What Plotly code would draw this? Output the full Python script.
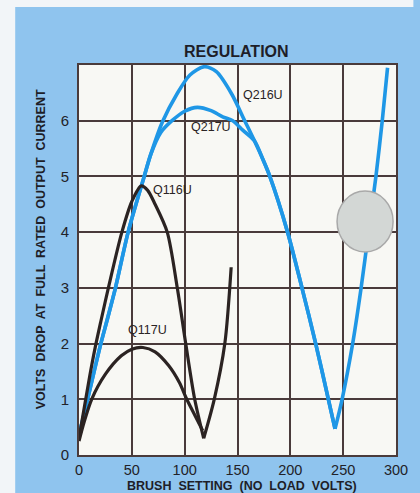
import plotly.graph_objects as go

# ---- data ----
q216u_x = [0, 10, 20, 27, 34.5, 46.5, 61.7, 68, 79, 92.7, 105, 118.6, 130, 144.5, 156.8, 166, 174.6, 180.6, 197.4, 211, 224, 236, 242.3, 249, 259, 267, 274, 281, 287, 292]
q216u_y = [0.35, 1.15, 1.95, 2.45, 3.0, 4.0, 5.0, 5.4, 5.98, 6.48, 6.82, 6.97, 6.88, 6.48, 6.0, 5.64, 5.28, 5.0, 4.0, 3.0, 2.0, 1.0, 0.47, 1.0, 2.0, 3.0, 4.0, 5.0, 6.0, 6.95]

q217u_x = [0, 10, 20, 27, 34.5, 46.5, 61.7, 68, 77.4, 88, 100, 112, 125, 136, 145.5, 155, 166, 174.6, 180.6, 197.4, 211, 224, 236, 242.3]
q217u_y = [0.35, 1.15, 1.95, 2.45, 3.0, 4.0, 5.0, 5.4, 5.79, 6.0, 6.17, 6.24, 6.18, 6.07, 6.0, 5.83, 5.64, 5.28, 5.0, 4.0, 3.0, 2.0, 1.0, 0.47]

q116u_x = [0, 5, 10, 15, 20.8, 28.4, 40.6, 50, 58.9, 65, 72, 83.5, 93, 101, 109.5, 118, 128, 138, 144]
q116u_y = [0.3, 0.85, 1.4, 1.9, 2.41, 3.05, 4.0, 4.55, 4.83, 4.75, 4.5, 4.0, 3.0, 2.0, 1.0, 0.3, 1.0, 2.0, 3.37]

q117u_x = [0, 5, 12, 25, 40, 50, 60.5, 72, 85, 95, 102, 110, 117]
q117u_y = [0.25, 0.6, 1.0, 1.45, 1.78, 1.9, 1.93, 1.85, 1.6, 1.3, 1.0, 0.7, 0.44]

x_ticks = [0, 50, 100, 150, 200, 250, 300]
y_ticks = [0, 1, 2, 3, 4, 5, 6]

series = [
    ("Q216U", q216u_x, q216u_y, "#1f97e6", 3.6),
    ("Q217U", q217u_x, q217u_y, "#1f97e6", 3.6),
    ("Q116U", q116u_x, q116u_y, "#2b2322", 3.2),
    ("Q117U", q117u_x, q117u_y, "#2b2322", 3.2),
]

labels = [
    ("Q216U", 269, 95),
    ("Q217U", 216, 127),
    ("Q116U", 176, 190),
    ("Q117U", 150, 330),
]

W, H = 420, 493
ML, MR, MT, MB = 79, 13, 65, 38
PW, PH = W - ML - MR, H - MT - MB


def px(xp):
    return (xp - ML) / PW


def py(yp):
    return (H - MB - yp) / PH


fig = go.Figure()
for name, xs, ys, col, w in series:
    # split at the sharp minimum (cusp) so the spline keeps the V shape
    segs = []
    start = 0
    for i in range(1, len(ys) - 1):
        if ys[i] < ys[i - 1] and ys[i] < ys[i + 1]:
            segs.append((start, i))
            start = i
    segs.append((start, len(ys) - 1))
    for a, b in segs:
        fig.add_trace(go.Scatter(x=xs[a:b + 1], y=ys[a:b + 1], mode="lines", name=name,
                                 line=dict(color=col, width=w, shape="spline", smoothing=0.8),
                                 showlegend=False, hoverinfo="skip"))

font_fam = "Liberation Sans, Arial, sans-serif"
grid_col = "#4a3b3b"

annotations = []
for text, xp, yp in labels:
    annotations.append(dict(text=text, x=px(xp), y=py(yp), xref="paper", yref="paper",
                            showarrow=False, font=dict(family=font_fam, size=12.5, color="#2a2424"),
                            xanchor="center", yanchor="middle"))
annotations.append(dict(text="<b>REGULATION</b>", x=px(242), y=py(52), xref="paper", yref="paper",
                        showarrow=False, font=dict(family=font_fam, size=16, color="#1e1e28"),
                        xanchor="center", yanchor="middle"))
annotations.append(dict(text="<b>BRUSH  SETTING  (NO  LOAD  VOLTS)</b>", x=px(248), y=py(486),
                        xref="paper", yref="paper", showarrow=False,
                        font=dict(family=font_fam, size=12.5, color="#1e1e28"),
                        xanchor="center", yanchor="middle"))
annotations.append(dict(text="<b>VOLTS  DROP  AT  FULL  RATED  OUTPUT  CURRENT</b>", x=px(40), y=py(249),
                        xref="paper", yref="paper", showarrow=False, textangle=-90,
                        font=dict(family=font_fam, size=12.5, color="#1e1e28"),
                        xanchor="center", yanchor="middle"))

shapes = [
    # white paper edge strips
    dict(type="rect", xref="paper", yref="paper", x0=px(-5), x1=px(13), y0=py(-5), y1=py(500),
         fillcolor="#f2f5f8", line=dict(width=0), layer="below"),
    dict(type="rect", xref="paper", yref="paper", x0=px(-5), x1=px(425), y0=py(7), y1=py(-5),
         fillcolor="#f2f5f8", line=dict(width=0), layer="below"),
    # hole punch
    dict(type="circle", xref="paper", yref="paper", x0=px(346), x1=px(404), y0=py(252), y1=py(191),
         fillcolor="#d3d7d5", line=dict(color="#a9a9a9", width=1.5), layer="above"),
]

fig.update_layout(
    width=W, height=H,
    margin=dict(l=ML, r=MR, t=MT, b=MB),
    paper_bgcolor="#8fc4ee",
    plot_bgcolor="#f8f8f4",
    annotations=annotations,
    shapes=shapes,
    xaxis=dict(range=[0, 300], tickvals=x_ticks, ticktext=[str(v) for v in x_ticks],
               showgrid=True, gridcolor=grid_col, gridwidth=1.5, zeroline=False,
               showline=True, linecolor=grid_col, linewidth=2, mirror=True,
               ticks="outside", ticklen=1, tickcolor="rgba(0,0,0,0)",
               tickfont=dict(family=font_fam, size=14.5, color="#222228"), fixedrange=True),
    yaxis=dict(range=[0, 7], tickvals=y_ticks, ticktext=[str(v) for v in y_ticks],
               showgrid=True, gridcolor=grid_col, gridwidth=1.5, zeroline=False,
               showline=True, linecolor=grid_col, linewidth=2, mirror=True,
               ticks="outside", ticklen=5, tickcolor="rgba(0,0,0,0)",
               tickfont=dict(family=font_fam, size=15, color="#222228"), fixedrange=True),
)

fig.write_html("out.html", config={"displayModeBar": False},
               post_script="document.body.style.margin='0';document.body.style.overflow='hidden';")
